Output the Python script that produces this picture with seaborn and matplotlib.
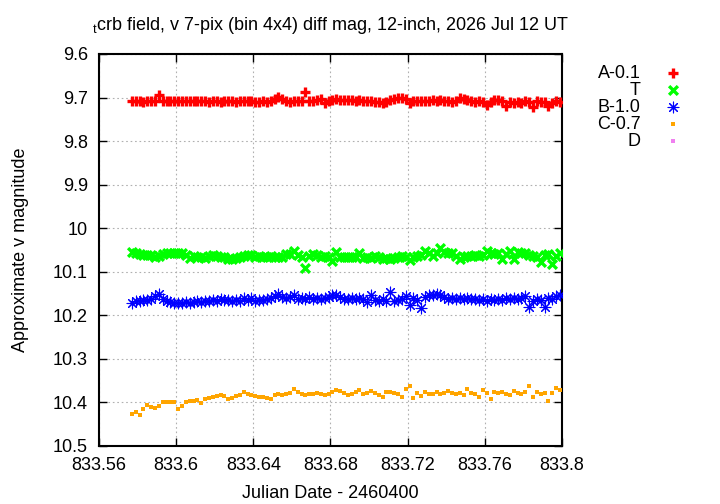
import pandas as pd
import matplotlib
matplotlib.use("Agg")
import matplotlib.pyplot as plt
import seaborn as sns
from matplotlib.ticker import FormatStrFormatter

# Julian date - 2460400 for every exposure
jd = [833.577, 833.579, 833.581, 833.583, 833.585, 833.587, 833.589, 833.591, 833.593, 833.595,
      833.597, 833.599, 833.601, 833.603, 833.605, 833.607, 833.609, 833.611, 833.613, 833.615,
      833.617, 833.619, 833.621, 833.623, 833.625, 833.627, 833.629, 833.631, 833.633, 833.635,
      833.637, 833.639, 833.641, 833.643, 833.645, 833.647, 833.649, 833.651, 833.653, 833.655,
      833.657, 833.659, 833.661, 833.663, 833.665, 833.667, 833.669, 833.671, 833.673, 833.675,
      833.677, 833.679, 833.681, 833.683, 833.685, 833.687, 833.689, 833.691, 833.693, 833.695,
      833.697, 833.699, 833.701, 833.703, 833.705, 833.707, 833.709, 833.711, 833.713, 833.715,
      833.717, 833.719, 833.721, 833.723, 833.725, 833.727, 833.729, 833.731, 833.733, 833.735,
      833.737, 833.739, 833.741, 833.743, 833.745, 833.747, 833.749, 833.751, 833.753, 833.755,
      833.757, 833.759, 833.761, 833.763, 833.765, 833.767, 833.769, 833.771, 833.773, 833.775,
      833.777, 833.779, 833.781, 833.783, 833.785, 833.787, 833.789, 833.791, 833.793, 833.795,
      833.797, 833.799]

mag_a = [9.708, 9.709, 9.708, 9.710, 9.709, 9.709, 9.708, 9.694, 9.709, 9.708,
         9.707, 9.708, 9.707, 9.708, 9.709, 9.708, 9.707, 9.709, 9.708, 9.709,
         9.710, 9.709, 9.708, 9.710, 9.709, 9.708, 9.709, 9.711, 9.708, 9.709,
         9.708, 9.709, 9.710, 9.711, 9.709, 9.710, 9.708, 9.703, 9.699, 9.703,
         9.708, 9.710, 9.709, 9.708, 9.707, 9.688, 9.709, 9.707, 9.706, 9.703,
         9.713, 9.709, 9.705, 9.704, 9.706, 9.705, 9.706, 9.705, 9.707, 9.706,
         9.707, 9.708, 9.708, 9.710, 9.711, 9.713, 9.711, 9.706, 9.703, 9.701,
         9.702, 9.704, 9.713, 9.708, 9.709, 9.707, 9.709, 9.708, 9.706, 9.707,
         9.705, 9.708, 9.709, 9.711, 9.707, 9.702, 9.703, 9.706, 9.708, 9.710,
         9.708, 9.711, 9.716, 9.711, 9.706, 9.705, 9.707, 9.720, 9.710, 9.712,
         9.710, 9.713, 9.709, 9.711, 9.722, 9.709, 9.711, 9.710, 9.719, 9.712,
         9.708, 9.711]

mag_t = [10.055, 10.058, 10.060, 10.061, 10.061, 10.062, 10.066, 10.063, 10.060, 10.057,
         10.056, 10.056, 10.057, 10.058, 10.062, 10.068, 10.064, 10.065, 10.067, 10.068,
         10.064, 10.062, 10.064, 10.066, 10.065, 10.070, 10.071, 10.069, 10.067, 10.064,
         10.061, 10.062, 10.066, 10.064, 10.065, 10.067, 10.063, 10.066, 10.065, 10.066,
         10.060, 10.059, 10.052, 10.062, 10.066, 10.091, 10.064, 10.060, 10.061, 10.065,
         10.063, 10.066, 10.075, 10.055, 10.066, 10.066, 10.065, 10.066, 10.067, 10.057,
         10.068, 10.066, 10.069, 10.064, 10.066, 10.070, 10.068, 10.071, 10.068, 10.066,
         10.064, 10.066, 10.074, 10.065, 10.064, 10.061, 10.053, 10.057, 10.064, 10.058,
         10.045, 10.054, 10.056, 10.058, 10.063, 10.071, 10.066, 10.064, 10.064, 10.062,
         10.063, 10.061, 10.053, 10.056, 10.060, 10.058, 10.070, 10.059, 10.053, 10.071,
         10.054, 10.057, 10.058, 10.061, 10.063, 10.066, 10.078, 10.061, 10.060, 10.082,
         10.064, 10.057]

mag_b = [10.171, 10.168, 10.166, 10.164, 10.165, 10.162, 10.155, 10.150, 10.163, 10.168,
         10.169, 10.171, 10.172, 10.171, 10.169, 10.172, 10.170, 10.168, 10.170, 10.166,
         10.167, 10.164, 10.166, 10.163, 10.165, 10.164, 10.166, 10.165, 10.167, 10.160,
         10.164, 10.161, 10.166, 10.164, 10.165, 10.163, 10.160, 10.155, 10.152, 10.157,
         10.161, 10.159, 10.153, 10.162, 10.160, 10.163, 10.159, 10.162, 10.160, 10.162,
         10.160, 10.158, 10.154, 10.153, 10.157, 10.162, 10.163, 10.161, 10.162, 10.160,
         10.163, 10.169, 10.154, 10.165, 10.168, 10.163, 10.166, 10.147, 10.166, 10.165,
         10.163, 10.155, 10.176, 10.161, 10.164, 10.183, 10.158, 10.154, 10.153, 10.152,
         10.153, 10.157, 10.163, 10.161, 10.162, 10.160, 10.162, 10.161, 10.163, 10.162,
         10.164, 10.162, 10.166, 10.163, 10.165, 10.162, 10.164, 10.161, 10.163, 10.160,
         10.163, 10.161, 10.156, 10.182, 10.166, 10.163, 10.165, 10.182, 10.160, 10.162,
         10.156, 10.153]

mag_c = [10.426, 10.422, 10.429, 10.415, 10.407, 10.410, 10.413, 10.409, 10.400, 10.398,
         10.400, 10.398, 10.414, 10.408, 10.398, 10.396, 10.397, 10.395, 10.402, 10.392,
         10.390, 10.387, 10.386, 10.384, 10.385, 10.391, 10.389, 10.385, 10.382, 10.377,
         10.381, 10.383, 10.385, 10.388, 10.387, 10.389, 10.391, 10.383, 10.381, 10.382,
         10.380, 10.379, 10.369, 10.377, 10.380, 10.383, 10.381, 10.380, 10.379, 10.380,
         10.384, 10.381, 10.376, 10.372, 10.374, 10.379, 10.384, 10.381, 10.375, 10.371,
         10.380, 10.378, 10.373, 10.379, 10.384, 10.388, 10.377, 10.375, 10.379, 10.381,
         10.388, 10.370, 10.363, 10.389, 10.379, 10.385, 10.377, 10.381, 10.380, 10.376,
         10.381, 10.379, 10.373, 10.379, 10.380, 10.378, 10.382, 10.370, 10.378, 10.381,
         10.388, 10.372, 10.378, 10.392, 10.375, 10.378, 10.375, 10.380, 10.383, 10.373,
         10.378, 10.381, 10.375, 10.363, 10.388, 10.376, 10.380, 10.378, 10.397, 10.378,
         10.366, 10.371]

# D has no points inside the plotted range
jd_d = []
mag_d = []

labels = ["A-0.1", "T", "B-1.0", "C-0.7", "D"]
xticks = [833.56, 833.6, 833.64, 833.68, 833.72, 833.76, 833.8]
yticks = [9.6, 9.7, 9.8, 9.9, 10.0, 10.1, 10.2, 10.3, 10.4, 10.5]

plt.rcParams["font.family"] = ["Liberation Sans", "DejaVu Sans"]
plt.rcParams["mathtext.fontset"] = "custom"
plt.rcParams["mathtext.rm"] = "Liberation Sans"

df = pd.DataFrame({"jd": jd, "A": mag_a, "T": mag_t, "B": mag_b, "C": mag_c})

fig = plt.figure(figsize=(7.2, 5.04), dpi=100)
ax = fig.add_axes([99 / 720, 58 / 504, 463 / 720, 392 / 504])

sns.scatterplot(data=df, x="jd", y="A", ax=ax, marker="+", color="#ff0000",
                s=55, linewidth=2.4, label=labels[0], zorder=3)
sns.scatterplot(data=df, x="jd", y="T", ax=ax, marker="x", color="#00ff00",
                s=40, linewidth=2.4, label=labels[1], zorder=3)
sns.scatterplot(data=df, x="jd", y="B", ax=ax, marker=(8, 2, 0), color="#0000ff",
                s=60, linewidth=0.8, label=labels[2], zorder=3)
sns.scatterplot(data=df, x="jd", y="C", ax=ax, marker="s", color="#ffa500",
                s=10, linewidth=0, label=labels[3], zorder=3)
ax.scatter(jd_d, mag_d, marker="s", color="#f080f0", s=10, linewidth=0, label=labels[4])

ax.set_xlim(833.56, 833.8)
ax.set_ylim(10.5, 9.6)
ax.set_xticks(xticks)
ax.set_yticks(yticks)
ax.xaxis.set_major_formatter(FormatStrFormatter("%g"))
ax.yaxis.set_major_formatter(FormatStrFormatter("%g"))
ax.tick_params(direction="in", top=True, right=True, length=6, width=1,
               labelsize=13, pad=8, colors="black")
for sp in ax.spines.values():
    sp.set_linewidth(1.5)
ax.grid(True, color="#b0b0b0", linestyle=(0, (1.5, 2.5)), linewidth=0.8)
ax.set_axisbelow(True)

ax.set_xlabel("Julian Date - 2460400", fontsize=13, labelpad=8)
ax.set_ylabel("Approximate v magnitude", fontsize=13, labelpad=17)
ax.set_title(r"$_{\mathrm{t}}$crb field, v 7-pix (bin 4x4) diff mag, 12-inch, 2026 Jul 12 UT",
             fontsize=13, pad=17)

# gnuplot-style key: labels right-aligned, sample to the right
ax.legend(loc="upper left", bbox_to_anchor=(590 / 720, 1 - 58 / 504),
          bbox_transform=fig.transFigure, frameon=False, markerfirst=False,
          fontsize=13, handletextpad=1.3, labelspacing=0.0, borderaxespad=0,
          handlelength=1.0)

fig.savefig("out.png", dpi=100)
